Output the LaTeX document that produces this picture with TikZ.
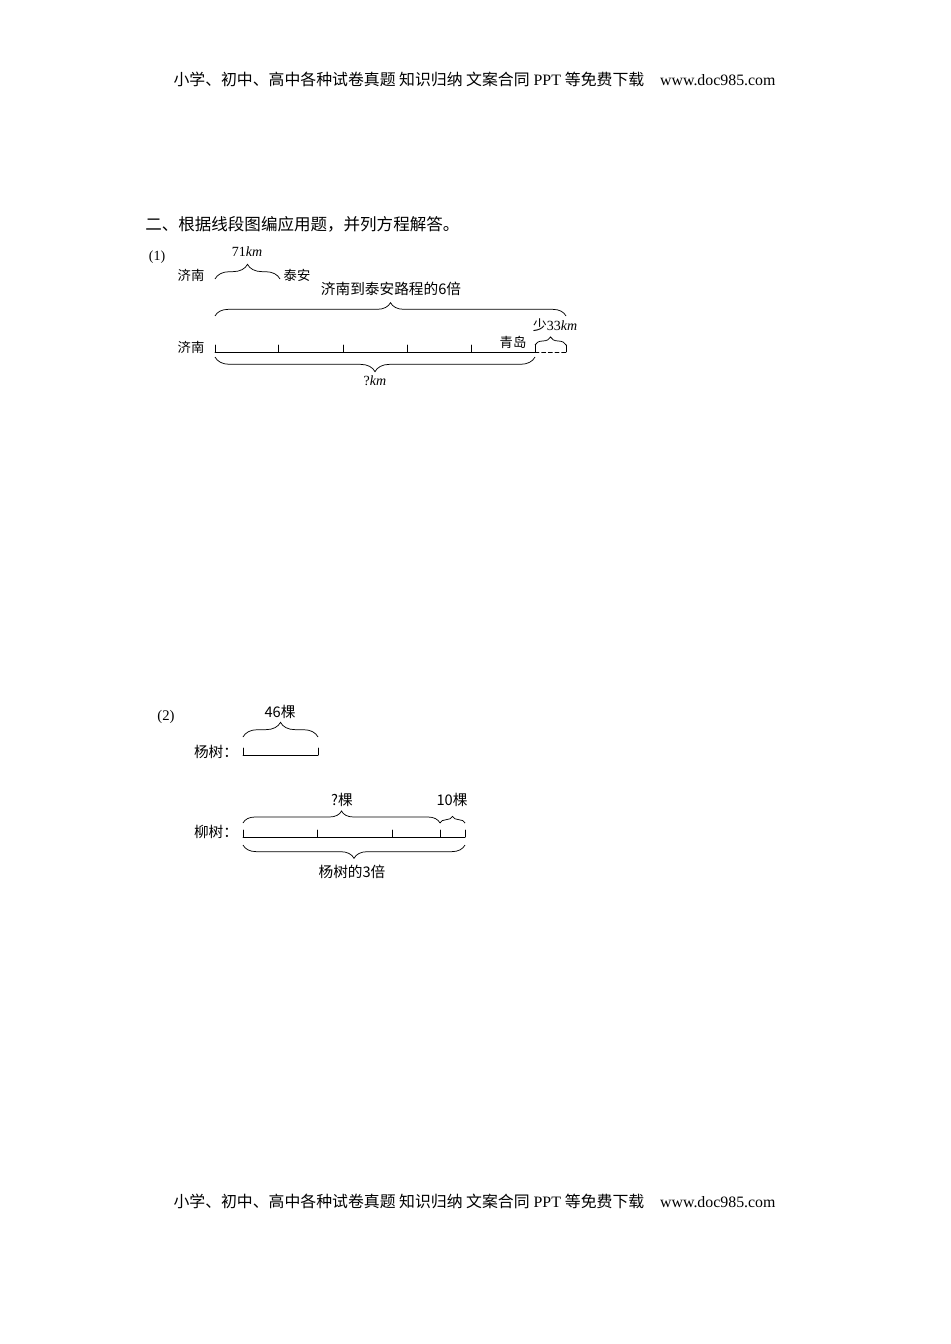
\documentclass[tikz,border=0pt]{standalone}
\usepackage{fontspec}
\setmainfont{Liberation Serif}
\newfontfamily\cjk{Noto Sans CJK SC}
\usetikzlibrary{decorations.pathreplacing}
\tikzset{
  seg/.style={line width=0.6pt, line cap=round},
  brc/.style={line width=0.55pt, decorate, decoration={brace, amplitude=#1}},
  lbl/.style={inner sep=0pt, font=\cjk\fontsize{10}{12}\selectfont},
  lblb/.style={inner sep=0pt, font=\cjk\fontsize{11}{13}\selectfont},
  hdr/.style={inner sep=0pt, font=\fontsize{11.9}{13}\selectfont},
}
\newcommand{\zh}[1]{{\cjk #1}}
\begin{document}
\begin{tikzpicture}[x=0.75pt, y=-0.75pt]
\useasboundingbox (0,0) rectangle (950,1344);
% header and footer
\node[hdr] (hd) at (474.5,79) {\zh{小学、初中、高中各种试卷真题 知识归纳 文案合同} PPT \zh{等免费下载}\quad www.doc985.com};
\node[hdr] (ft) at (474.5,1201) {\zh{小学、初中、高中各种试卷真题 知识归纳 文案合同} PPT \zh{等免费下载}\quad www.doc985.com};
% title
\node[inner sep=0pt, anchor=west, font=\cjk\fontsize{12.4}{14}\selectfont] (title) at (145,224) {二、根据线段图编应用题，并列方程解答。};

% ---------- part (1)
\node[inner sep=0pt, font=\fontsize{10.5}{12}\selectfont] (p1) at (157,257) {(1)};
\node[lbl] (jn1) at (191,275) {济南};
\node[lbl] (ta) at (297,275) {泰安};
\coordinate (j1) at (215,279);
\coordinate (t1) at (280,279);
\draw[brc=11pt] (j1) -- (t1);
\node[inner sep=0pt, font=\fontsize{10.5}{12}\selectfont] (l71) at (247,252) {71\textit{km}};

\coordinate (a0) at (215,352);
\coordinate (a1) at (278,352);
\coordinate (a2) at (343,352);
\coordinate (a3) at (407,352);
\coordinate (a4) at (471,352);
\coordinate (a5) at (535,352);
\coordinate (a6) at (566,352);
\draw[seg] (a0) -- (a5);
\foreach \p in {a0,a1,a2,a3,a4,a5} \draw[seg] (\p) -- ++(0,-7);
\draw[seg, dash pattern=on 3pt off 2pt] (a5) -- (a6);
\draw[seg] (a6) -- ++(0,-7);
\node[lbl] (jn2) at (191,347) {济南};
\node[lbl] (qd) at (513,342) {青岛};

\coordinate (b0) at (215,316);
\coordinate (b1) at (566,316);
\draw[brc=10pt] (b0) -- (b1);
\node[lblb] (l6) at (391,289) {济南到泰安路程的6倍};

\coordinate (s0) at (535,345);
\coordinate (s1) at (566,345);
\draw[brc=6pt] (s0) -- (s1);
\node[inner sep=0pt, font=\fontsize{10.5}{12}\selectfont] (l33) at (555,325) {\zh{少}33\textit{km}};

\coordinate (c0) at (535,357);
\coordinate (c1) at (215,357);
\draw[brc=11pt] (c0) -- (c1);
\node[inner sep=0pt, font=\fontsize{10.5}{12}\selectfont] (lq) at (375,381) {?\textit{km}};

% ---------- part (2)
\node[inner sep=0pt, font=\fontsize{11}{13}\selectfont] (p2) at (166,717) {(2)};
\node[lblb] (ys) at (216,752) {杨树：};
\coordinate (y0) at (243,755);
\coordinate (y1) at (318,755);
\draw[seg] (y0) -- (y1);
\draw[seg] (y0) -- ++(0,-7);
\draw[seg] (y1) -- ++(0,-7);
\coordinate (yb0) at (243,737);
\coordinate (yb1) at (318,737);
\draw[brc=11pt] (yb0) -- (yb1);
\node[lblb] (l46) at (280,712) {46棵};

\node[lblb] (ls) at (216,832) {柳树：};
\coordinate (w0) at (243,837);
\coordinate (w1) at (317,837);
\coordinate (w2) at (392,837);
\coordinate (w3) at (440,837);
\coordinate (w4) at (465,837);
\draw[seg] (w0) -- (w4);
\foreach \p in {w0,w1,w2,w3,w4} \draw[seg] (\p) -- ++(0,-7);
\coordinate (wb0) at (243,823);
\coordinate (wb1) at (440,823);
\coordinate (wb2) at (465,823);
\draw[brc=9pt] (wb0) -- (wb1);
\draw[brc=5pt] (wb1) -- (wb2);
\node[lblb] (lqk) at (342,800) {?棵};
\node[lblb] (l10) at (452,800) {10棵};
\coordinate (wc0) at (465,845);
\coordinate (wc1) at (243,845);
\draw[brc=10pt] (wc0) -- (wc1);
\node[lblb] (l3) at (352,872) {杨树的3倍};
\end{tikzpicture}
\end{document}
